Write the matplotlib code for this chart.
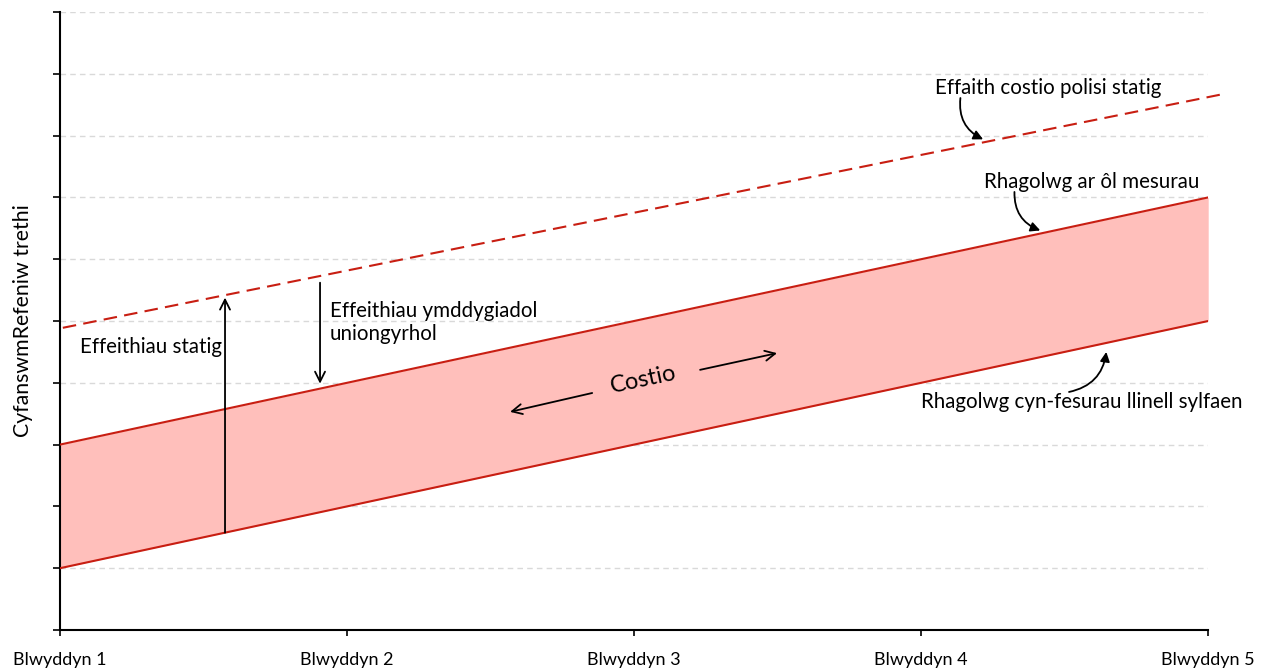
import numpy as np
import matplotlib.pyplot as plt

plt.rcParams['font.family'] = ['Lato', 'DejaVu Sans']

years = [0, 4]
year_labels = ['Blwyddyn 1', 'Blwyddyn 2', 'Blwyddyn 3', 'Blwyddyn 4', 'Blwyddyn 5']
baseline = [1, 5]          # Rhagolwg cyn-fesurau llinell sylfaen
post_measures = [3, 7]     # Rhagolwg ar ôl mesurau
static_years = [0.01, 4.05]
static_cost = [4.89, 8.67]  # Effaith costio polisi statig

red = '#C81E12'
fill = '#FFBFBB'
fs = 14.8

fig = plt.figure(figsize=(12.73, 6.71), dpi=100)
ax = fig.add_axes([0.0471, 0.0611, 0.902, 0.921])

ax.fill_between(years, baseline, post_measures, color=fill, lw=0, zorder=1)
ax.plot(years, baseline, color=red, lw=1.5, zorder=3)
ax.plot(years, post_measures, color=red, lw=1.5, zorder=3)
ax.plot(static_years, static_cost, color=red, lw=1.5, ls=(0, (6.5, 3.5)), zorder=3, clip_on=False)

ax.set_xlim(0, 4)
ax.set_ylim(0, 10)
ax.set_xticks(range(5))
ax.set_xticklabels(year_labels, fontsize=13)
ax.set_yticks(range(11))
ax.set_yticklabels([])
ax.tick_params(axis='x', length=4, width=1.2, pad=12)
ax.tick_params(axis='y', length=5, width=1.2)
for y in range(1, 11):
    ax.axhline(y, color='#D9D9D9', lw=1, ls=(0, (4, 3)), zorder=0)
for s in ['top', 'right']:
    ax.spines[s].set_visible(False)
for s in ['left', 'bottom']:
    ax.spines[s].set_linewidth(1.5)
ax.set_ylabel('CyfanswmRefeniw trethi', fontsize=15.3, labelpad=11)

def slope_y(xs, ys, x):
    return np.interp(x, xs, ys)

arrow = dict(arrowstyle='->', color='black', lw=1.3, mutation_scale=18, shrinkA=0, shrinkB=0)

# vertical arrows
xa = 0.575
ax.annotate('', xy=(xa, slope_y(static_years, static_cost, xa) - 0.04),
            xytext=(xa, slope_y(years, baseline, xa)), arrowprops=arrow)
ax.text(0.07, 4.58, 'Effeithiau statig', fontsize=fs, va='center', ha='left')

xb = 0.906
ax.annotate('', xy=(xb, slope_y(years, post_measures, xb) + 0.08), xytext=(xb, 5.62),
            arrowprops=arrow)
ax.text(0.94, 4.98, 'Effeithiau ymddygiadol\nuniongyrhol', fontsize=fs, va='center',
        ha='left', linespacing=1.2)

# Costio
ax.text(2.031, 4.045, 'Costio', fontsize=17, rotation=12, ha='center', va='center',
        rotation_mode='anchor')
ax.annotate('', xy=(1.568, 3.53), xytext=(1.854, 3.835), arrowprops=arrow)
ax.annotate('', xy=(2.498, 4.48), xytext=(2.23, 4.21), arrowprops=arrow)

# curved labels
curved = dict(arrowstyle='-|>', color='black', lw=1.3, mutation_scale=14,
              connectionstyle='arc3,rad=0.35', shrinkA=0, shrinkB=0, patchA=None)
ax.annotate('Effaith costio polisi statig', xy=(3.216, slope_y(static_years, static_cost, 3.216) + 0.05),
            xytext=(3.05, 8.77), fontsize=fs, va='center', ha='left',
            arrowprops=dict(curved, relpos=(0.11, 0)))
ax.annotate('Rhagolwg ar ôl mesurau', xy=(3.415, 3 + 3.415 + 0.05),
            xytext=(3.22, 7.25), fontsize=fs, va='center', ha='left',
            arrowprops=dict(curved, relpos=(0.14, 0)))
ax.annotate('Rhagolwg cyn-fesurau llinell sylfaen', xy=(3.645, 4.5),
            xytext=(3.0, 3.69), fontsize=fs, va='center', ha='left',
            arrowprops=dict(curved, relpos=(0.46, 1)))

fig.savefig('out.png', dpi=100)
